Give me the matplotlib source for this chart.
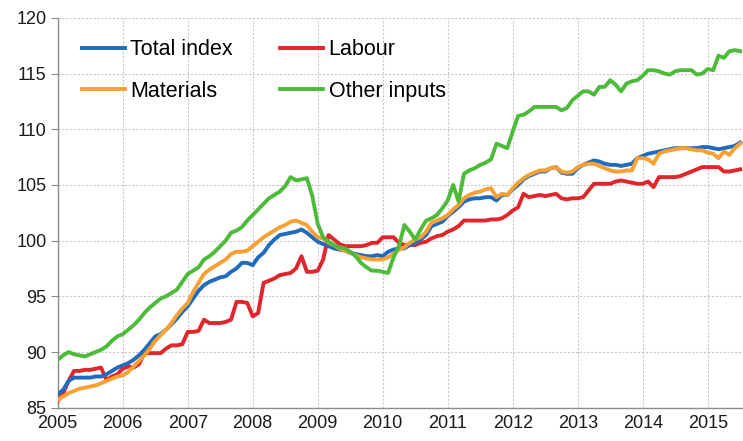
import numpy as np
import matplotlib.pyplot as plt

plt.rcParams['font.family'] = ['Liberation Sans', 'DejaVu Sans']

# monthly index values, Jan 2005 - Jul 2015
total_index = [
    86.2, 86.6, 87.4, 87.7, 87.7, 87.7, 87.7, 87.8, 87.8, 88.0, 88.3, 88.6,
    88.8, 89.0, 89.3, 89.7, 90.2, 90.8, 91.4, 91.6, 92.0, 92.5, 93.0, 93.6,
    94.1, 94.8, 95.5, 96.0, 96.3, 96.5, 96.7, 96.8, 97.2, 97.5, 98.0, 98.0,
    97.8, 98.5, 98.9, 99.6, 100.1, 100.5, 100.6, 100.7, 100.8, 101.0, 100.7, 100.3,
    99.9, 99.7, 99.5, 99.3, 99.2, 99.1, 98.9, 98.8, 98.7, 98.6, 98.6, 98.7,
    98.6, 99.0, 99.2, 99.3, 99.3, 99.6, 99.8, 100.1, 100.5, 101.3, 101.5, 101.7,
    102.2, 102.6, 103.0, 103.5, 103.7, 103.8, 103.8, 103.9, 103.9, 103.6, 104.1, 104.1,
    104.6, 105.0, 105.5, 105.8, 106.0, 106.2, 106.2, 106.5, 106.6, 106.1, 106.0, 106.0,
    106.5, 106.8, 107.0, 107.2, 107.1, 106.9, 106.8, 106.8, 106.7, 106.8, 106.9, 107.4,
    107.6, 107.8, 107.9, 108.0, 108.1, 108.2, 108.3, 108.3, 108.3, 108.3, 108.3, 108.4,
    108.4, 108.3, 108.2, 108.3, 108.4, 108.5, 108.8,
]
labour = [
    85.6, 86.3, 87.4, 88.3, 88.3, 88.4, 88.4, 88.5, 88.6, 87.5, 87.8, 88.0,
    88.5, 88.7, 88.6, 88.9, 89.9, 89.9, 89.9, 89.9, 90.3, 90.6, 90.6, 90.7,
    91.8, 91.8, 91.9, 92.9, 92.6, 92.6, 92.6, 92.7, 92.9, 94.5, 94.5, 94.4,
    93.2, 93.5, 96.2, 96.4, 96.6, 96.9, 97.0, 97.1, 97.5, 98.6, 97.2, 97.2,
    97.3, 98.3, 100.5, 100.1, 99.7, 99.5, 99.5, 99.5, 99.5, 99.6, 99.8, 99.8,
    100.3, 100.3, 100.3, 99.8, 99.6, 99.6, 99.6, 99.8, 99.9, 100.2, 100.4, 100.5,
    100.8, 101.0, 101.3, 101.8, 101.8, 101.8, 101.8, 101.8, 101.9, 101.9, 102.0, 102.3,
    102.7, 103.0, 104.2, 103.9, 104.0, 104.1, 104.0, 104.1, 104.2, 103.8, 103.7, 103.8,
    103.8, 103.9, 104.5, 105.1, 105.1, 105.1, 105.1, 105.3, 105.4, 105.3, 105.2, 105.1,
    105.1, 105.3, 104.8, 105.7, 105.7, 105.7, 105.7, 105.8, 106.0, 106.2, 106.4, 106.6,
    106.6, 106.6, 106.6, 106.2, 106.2, 106.3, 106.4,
]
materials = [
    85.7, 86.0, 86.3, 86.5, 86.7, 86.8, 86.9, 87.0, 87.2, 87.4, 87.6, 87.8,
    87.9, 88.2, 88.7, 89.2, 89.7, 90.3, 91.0, 91.5, 92.0, 92.6, 93.3, 93.9,
    94.4, 95.4, 96.2, 97.0, 97.4, 97.7, 98.0, 98.3, 98.8, 99.0, 99.0, 99.1,
    99.5, 99.9, 100.3, 100.6, 100.9, 101.2, 101.4, 101.7, 101.8, 101.6, 101.4, 100.8,
    100.3, 100.2, 99.8, 99.6, 99.3, 99.1, 98.9, 98.7, 98.5, 98.4, 98.3, 98.3,
    98.3, 98.5, 98.8, 99.2, 99.4, 99.8, 100.1, 100.3, 100.8, 101.6, 101.8, 102.0,
    102.3, 102.8, 103.2, 103.8, 104.1, 104.3, 104.4, 104.6, 104.7, 103.9, 104.2, 104.1,
    104.7, 105.2, 105.6, 105.9, 106.1, 106.3, 106.3, 106.5, 106.6, 106.2, 106.1, 106.2,
    106.6, 106.8, 106.9, 106.9, 106.7, 106.5, 106.3, 106.2, 106.2, 106.3, 106.3, 107.4,
    107.4, 107.3, 106.9, 107.8, 108.0, 108.1, 108.2, 108.3, 108.3, 108.2, 108.1, 108.1,
    107.9, 107.8, 107.4, 108.0, 107.7, 108.3, 108.7,
]
other_inputs = [
    89.3, 89.7, 90.0, 89.8, 89.7, 89.6, 89.8, 90.0, 90.2, 90.5, 91.0, 91.4,
    91.6, 92.0, 92.4, 92.9, 93.5, 94.0, 94.4, 94.8, 95.0, 95.3, 95.6, 96.3,
    97.0, 97.3, 97.6, 98.3, 98.6, 99.0, 99.5, 100.0, 100.7, 100.9, 101.2, 101.8,
    102.3, 102.8, 103.3, 103.8, 104.1, 104.4, 104.9, 105.7, 105.4, 105.5, 105.6, 104.0,
    101.5, 100.3, 99.9, 99.6, 99.4, 99.3, 99.0, 98.6, 98.0, 97.6, 97.3, 97.3,
    97.2, 97.1, 98.5, 99.5, 101.4, 100.8, 100.1, 101.0, 101.8, 102.0, 102.3, 102.9,
    103.6, 105.0, 103.5, 106.0, 106.3, 106.5, 106.8, 107.0, 107.3, 108.7, 108.5, 108.3,
    109.8, 111.2, 111.3, 111.6, 112.0, 112.0, 112.0, 112.0, 112.0, 111.7, 111.9, 112.6,
    113.0, 113.4, 113.4, 113.1, 113.8, 113.8, 114.4, 114.0, 113.4, 114.1, 114.3, 114.4,
    114.8, 115.3, 115.3, 115.2, 115.0, 114.9, 115.2, 115.3, 115.3, 115.3, 114.9, 115.0,
    115.4, 115.3, 116.6, 116.4, 117.0, 117.1, 117.0,
]
years = list(range(2005, 2016))

t = 2005 + np.arange(len(total_index)) / 12

fig = plt.figure(figsize=(7.43, 4.41), dpi=100)
ax = fig.add_axes([0.0777, 0.0755, 0.9223, 0.8841])

lw = 2.8
ax.plot(t, total_index, color='#1f6bbd', lw=lw, label='Total index', zorder=4)
ax.plot(t, materials, color='#f7a033', lw=lw, label='Materials', zorder=5)
ax.plot(t, labour, color='#e0252b', lw=lw, label='Labour', zorder=3)
ax.plot(t, other_inputs, color='#4dbb3a', lw=lw, label='Other inputs', zorder=6)

ax.set_xlim(2005, 2015.543)
ax.set_ylim(85, 120)
ax.set_xticks(years)
ax.set_yticks(range(85, 121, 5))
ax.grid(True, color='#c8c8c8', linestyle=(0, (2, 1.5)), linewidth=0.8)
ax.set_axisbelow(True)

for s in ['top', 'right']:
    ax.spines[s].set_visible(False)
for s in ['left', 'bottom']:
    ax.spines[s].set_color('#8c8c8c')
    ax.spines[s].set_linewidth(1.0)

ax.tick_params(axis='both', labelsize=13, colors='#8c8c8c', labelcolor='#1a1a1a')
ax.tick_params(axis='x', length=0, pad=5)
ax.tick_params(axis='y', length=5, pad=3)

ax.legend(ncol=2, loc='upper left', bbox_to_anchor=(0.035, 0.945), frameon=False,
          fontsize=15.5, handlelength=2.0, handletextpad=0.25, columnspacing=2.2,
          labelspacing=0.95, borderaxespad=0, borderpad=0)

fig.savefig('out.png', dpi=100)
